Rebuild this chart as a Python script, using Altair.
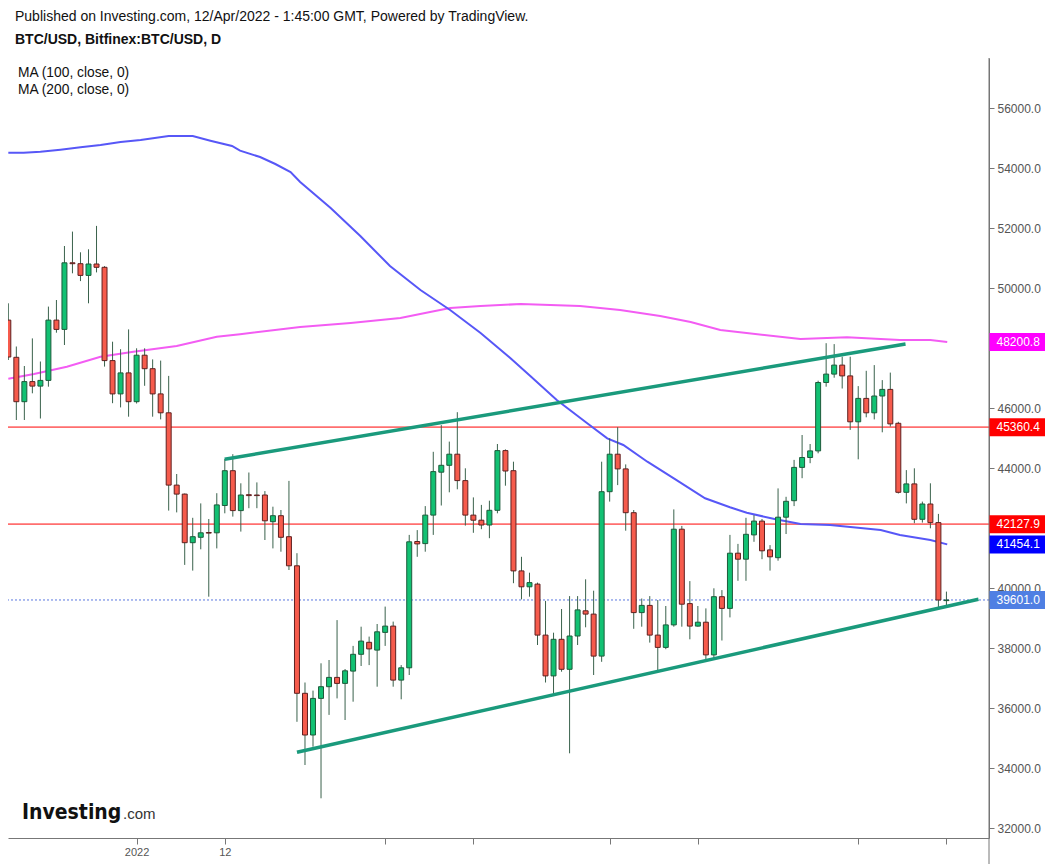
import altair as alt
import pandas as pd
import numpy as np

# ---------------- data ----------------
start_date = "2021-12-16"
opens = [48930, 47690, 46210, 46880, 46730, 46920, 48930, 48620, 50840, 50810,
         50420, 50800, 50690, 47580, 46470, 47170, 46210, 47760, 47310, 46470,
         45840, 43430, 43130, 41510, 41690, 41850, 41840, 42750, 43910, 42580,
         43110, 43100, 43100, 42210, 42410, 41710, 40740, 36490, 35100, 36320,
         36710, 37020, 36820, 37230, 37790, 38190, 37930, 38520, 38730, 36930,
         37340, 41550, 41480, 42430, 43860, 44090, 44460, 43580, 42430, 42260,
         42100, 42590, 44580, 43910, 40570, 40040, 40130, 38430, 37070, 38290,
         37290, 38400, 39240, 39130, 37730, 43210, 44460, 43970, 42510, 39180,
         39420, 38430, 38020, 38770, 41960, 39480, 38730, 38860, 37770, 39710,
         39320, 41160, 40960, 41770, 42230, 41270, 41010, 42360, 42910, 44020,
         44350, 44570, 46850, 47130, 47430, 47070, 45540, 46320, 45840, 46400,
         46620, 45490, 43190, 43470, 42290, 42800, 42180, 39580]
highs = [49490, 48050, 47400, 48320, 47550, 49380, 49600, 51400, 51880, 51190,
         51290, 52070, 50730, 48210, 47960, 48620, 47990, 47990, 47620, 47580,
         47070, 43800, 43150, 42340, 42820, 42300, 43160, 44300, 44460, 43490,
         43850, 43520, 43230, 42710, 42600, 43570, 41160, 36850, 36580, 37490,
         37600, 38930, 37300, 38070, 38710, 38380, 38800, 39380, 38880, 37430,
         41770, 41930, 42730, 44540, 45430, 44880, 45860, 43990, 43020, 42770,
         42910, 44800, 44620, 44210, 41040, 40510, 40180, 39570, 38510, 39300,
         39730, 39730, 40290, 39910, 44210, 44990, 45360, 44120, 42600, 39650,
         39730, 39600, 39400, 42620, 42070, 40230, 39400, 39320, 39990, 39930,
         41770, 41470, 42340, 42430, 42300, 41430, 43320, 43040, 44270, 45100,
         44800, 46910, 48160, 48130, 47710, 47710, 46730, 47240, 47430, 46930,
         47180, 45540, 43930, 43990, 42880, 43490, 42470, 39880]
lows = [47600, 45600, 45600, 46490, 45650, 46710, 48510, 48100, 50490, 50230,
        49490, 50520, 47380, 46160, 46020, 45710, 46150, 46740, 45710, 45620,
        42580, 42520, 40770, 40580, 41290, 39710, 41320, 42490, 42380, 41880,
        42660, 42660, 41600, 41320, 41210, 40600, 35540, 34100, 34710, 32990,
        35770, 36320, 35600, 36210, 37400, 37430, 36710, 38070, 36710, 36290,
        37100, 41040, 41210, 41770, 42750, 43190, 43290, 42080, 41840, 41960,
        41660, 42490, 43410, 40160, 39620, 39710, 38100, 36850, 36430, 37210,
        34490, 38100, 38690, 37100, 37540, 42880, 43430, 41910, 38640, 38710,
        38180, 37240, 37960, 38710, 38710, 38290, 38710, 37600, 37620, 38250,
        39020, 40240, 40240, 41540, 40960, 40580, 40910, 41800, 42730, 43660,
        44160, 44490, 46710, 47010, 46650, 45270, 44290, 45690, 45620, 45190,
        45380, 43150, 42820, 42160, 42180, 41990, 39320, 39400]
closes = [47700, 46210, 46880, 46730, 46920, 48930, 48620, 50840, 50810, 50420,
          50800, 50690, 47580, 46470, 47170, 46210, 47760, 47310, 46470, 45840,
          43430, 43130, 41510, 41710, 41840, 41830, 42770, 43910, 42580, 43100,
          43080, 43080, 42240, 42410, 41690, 40740, 36490, 35100, 36320, 36710,
          37020, 36820, 37240, 37790, 38230, 37970, 38540, 38730, 36930, 37340,
          41540, 41470, 42430, 43880, 44090, 44460, 43580, 42430, 42260, 42100,
          42590, 44580, 43900, 40570, 40040, 40180, 38430, 37070, 38290, 37290,
          38400, 39270, 39130, 37730, 43210, 44460, 43970, 42510, 39180, 39420,
          38430, 38020, 38770, 41960, 39460, 38730, 38860, 37770, 39710, 39320,
          41160, 40960, 41790, 42230, 41240, 41040, 42360, 42890, 44020, 44350,
          44570, 46850, 47130, 47430, 47070, 45540, 46320, 45840, 46400, 46620,
          45470, 43190, 43470, 42290, 42800, 42180, 39600, 39601]

# moving averages, read at points along the drawn lines (day index, price)
ma100_day = [0, 1.9, 4, 6.5, 9, 11.5, 14, 16.5, 20, 23, 25.2, 27.9, 28.9, 31.4, 33.3,
             35.2, 36.4, 40.2, 43.9, 47.6, 51.4, 55.1, 58.9, 62.6, 65.1, 68.4, 72.2,
             74.7, 76.7, 79.7, 83, 86.9, 90, 92.1, 95.7, 98.8, 102.5, 108.8, 111.2,
             115, 117.1]
ma100_val = [54510, 54510, 54543, 54610, 54690, 54767, 54867, 54933, 55067, 55067,
             54910, 54733, 54577, 54367, 54133, 53867, 53533, 52667, 51733, 50733,
             49933, 49267, 48500, 47667, 47067, 46267, 45490, 44990, 44767, 44210,
             43657, 42990, 42690, 42510, 42290, 42133, 42100, 41933, 41767, 41600,
             41454]
ma200_day = [0, 3.2, 7.3, 11.5, 15.6, 21, 26, 28.9, 36.4, 42.7, 48.9, 52.6, 55.1,
             58.9, 63.9, 67.6, 71.3, 76.3, 81.3, 85.1, 88.8, 98.8, 104.6, 111.2,
             115, 117.1]
ma200_val = [46977, 47133, 47377, 47710, 47877, 48067, 48377, 48457, 48700, 48833,
             49000, 49200, 49333, 49400, 49467, 49433, 49400, 49267, 49067, 48867,
             48600, 48300, 48357, 48267, 48267, 48200]

# drawn trend lines (day index, price)
trend_name = ["upper", "upper", "lower", "lower"]
trend_day = [26.98, 111.9, 36.0, 121.0]
trend_val = [44290, 48133, 34523, 39623]

# horizontal levels
level_vals = [45360.4, 42127.9]
last_price = 39601.0

# price tags on the right scale
tag_vals = [48200.8, 45360.4, 42127.9, 41454.1, 39601.0]
tag_cols = ["#ff00ff", "#ff0000", "#ff0000", "#0000ff", "#4f7fe3"]

# axis ticks (labels hidden under a price tag are left blank)
y_ticks = list(range(32000, 56001, 2000))
y_hidden = [48000, 42000]
x_tick_days = [16, 27, 47, 58, 75, 86, 106, 117]
x_tick_labels = ["2022", "12", "", "", "", "", "", ""]

title1 = "Published on Investing.com, 12/Apr/2022 - 1:45:00 GMT, Powered by TradingView."
title2 = "BTC/USD, Bitfinex:BTC/USD, D"
legend1 = "MA (100, close, 0)"
legend2 = "MA (200, close, 0)"

# ---------------- tables ----------------
dates = pd.date_range(start_date, periods=len(opens), freq="D")
candles = pd.DataFrame({
    "date": dates.strftime("%Y-%m-%d"),
    "day": (dates - dates[0]).days.astype(float),
    "open": opens, "high": highs, "low": lows, "close": closes,
})
candles["dir"] = np.where(candles["close"] >= candles["open"], "up", "down")
candles["x0"] = candles["day"] - 0.31
candles["x1"] = candles["day"] + 0.31

ma100 = pd.DataFrame({"day": ma100_day, "val": ma100_val})
ma200 = pd.DataFrame({"day": ma200_day, "val": ma200_val})
trend = pd.DataFrame({"line": trend_name, "day": trend_day, "val": trend_val})
levels = pd.DataFrame({"val": level_vals})
lastp = pd.DataFrame({"val": [last_price]})
tags = pd.DataFrame({"val": tag_vals, "col": tag_cols,
                     "label": [f"{v:.1f}" for v in tag_vals]})
tags["lo"] = tags["val"] - 300
tags["hi"] = tags["val"] + 300

FONT = "Liberation Sans, Arial, sans-serif"

xscale = alt.Scale(domain=[-0.04, 122.31], nice=False, zero=False)
yscale = alt.Scale(domain=[31666.67, 57666.67], nice=False, zero=False)

label_expr = " : ".join(
    f"datum.value == {d} ? '{l}'" for d, l in zip(x_tick_days, x_tick_labels)
) + " : ''"
hidden_expr = " || ".join(f"datum.value == {v}" for v in y_hidden)
ylabel_expr = f"({hidden_expr}) ? '' : format(datum.value, '.1f')"

xaxis = alt.Axis(values=x_tick_days, labelExpr=label_expr, title=None, grid=False,
                 domainColor="#777", tickColor="#777", tickSize=6, labelColor="#555",
                 labelFontSize=11, labelPadding=2, labelFont=FONT, labelOverlap=False,
                 labelFlush=False)
yaxis = alt.Axis(orient="right", values=y_ticks, labelExpr=ylabel_expr,
                 title=None, grid=False, domainColor="#777", tickColor="#777",
                 tickSize=5, labelPadding=3, labelFontSize=12, labelColor="#555",
                 labelFont=FONT, labelOverlap=False)


def X(field):
    return alt.X(field, type="quantitative", scale=xscale, axis=xaxis)


def Y(field):
    return alt.Y(field, type="quantitative", scale=yscale, axis=yaxis)


layers = []

# horizontal red levels
layers.append(alt.Chart(levels).mark_rule(color="#ff6f6f", strokeWidth=1.8)
              .encode(y=Y("val")))
# last price dotted line
layers.append(alt.Chart(lastp).mark_rule(color="#5a78e0", strokeWidth=1,
                                         strokeDash=[2, 2])
              .encode(y=Y("val")))
# moving averages
layers.append(alt.Chart(ma200).mark_line(color="#f35cf3", strokeWidth=2, clip=True)
              .encode(x=X("day"), y=Y("val"), order="day:Q"))
layers.append(alt.Chart(ma100).mark_line(color="#5757f7", strokeWidth=2, clip=True)
              .encode(x=X("day"), y=Y("val"), order="day:Q"))
# wicks
layers.append(alt.Chart(candles).mark_rule(color="#3a624c", strokeWidth=1, clip=True)
              .encode(x=X("day"), y=Y("low"), y2="high"))
# bodies
layers.append(alt.Chart(candles).mark_rect(strokeWidth=1, clip=True)
              .encode(x=X("x0"), x2="x1", y=Y("open"), y2="close",
                      fill=alt.Fill("dir:N", scale=alt.Scale(domain=["up", "down"],
                                    range=["#12c173", "#f65b4c"]), legend=None),
                      stroke=alt.Stroke("dir:N", scale=alt.Scale(domain=["up", "down"],
                                        range=["#1d5b3b", "#5e2020"]), legend=None)))
# trend lines
layers.append(alt.Chart(trend).mark_line(color="#1a9a7c", strokeWidth=3.5)
              .encode(x=X("day"), y=Y("val"), detail="line:N", order="day:Q"))

# right axis line continuing below
layers.append(alt.Chart(pd.DataFrame({"a": [0]})).mark_rule(color="#777", strokeWidth=1)
              .encode(x=alt.value(981), y=alt.value(0), y2=alt.value(806)))

# tags
layers.append(alt.Chart(tags).mark_rect()
              .encode(x=alt.value(981.5), x2=alt.value(1037), y=Y("lo"), y2="hi",
                      fill=alt.Fill("col:N", scale=None)))
layers.append(alt.Chart(tags).mark_text(align="left", baseline="middle", fontSize=12,
                                        color="white", font=FONT)
              .encode(x=alt.value(988.5), y=Y("val"), text="label:N"))


def label(text, x, y, size=13, weight="normal", color="#111"):
    return (alt.Chart(pd.DataFrame({"t": [text]}))
            .mark_text(align="left", baseline="middle", fontSize=size,
                       fontWeight=weight, color=color, font=FONT)
            .encode(x=alt.value(x), y=alt.value(y), text="t:N"))


layers.append(label(title1, 7, -41, 14))
layers.append(label(title2, 7, -18, 14, "bold"))
layers.append(label(legend1, 10, 15, 13.8))
layers.append(label(legend2, 10, 32, 13.8))

# Investing.com logo text
layers.append(alt.Chart(pd.DataFrame({"t": ["Investing"]}))
              .mark_text(align="left", baseline="alphabetic", fontSize=21,
                         fontWeight="bold", color="#111",
                         font="Liberation Sans Narrow, DejaVu Sans Condensed, Liberation Sans")
              .encode(x=alt.value(14), y=alt.value(761), text="t:N"))
layers.append(alt.Chart(pd.DataFrame({"t": [".com"]}))
              .mark_text(align="left", baseline="alphabetic", fontSize=15,
                         color="#333", font=FONT)
              .encode(x=alt.value(115), y=alt.value(761), text="t:N"))

chart = (alt.layer(*layers)
         .properties(width=981, height=780,
                     padding={"left": 8, "top": 58, "right": 63, "bottom": 26},
                     autosize=alt.AutoSizeParams(type="none"),
                     background="white")
         .configure_view(strokeWidth=0))

chart.save("out.html", embed_options={"renderer": "svg", "actions": False})
